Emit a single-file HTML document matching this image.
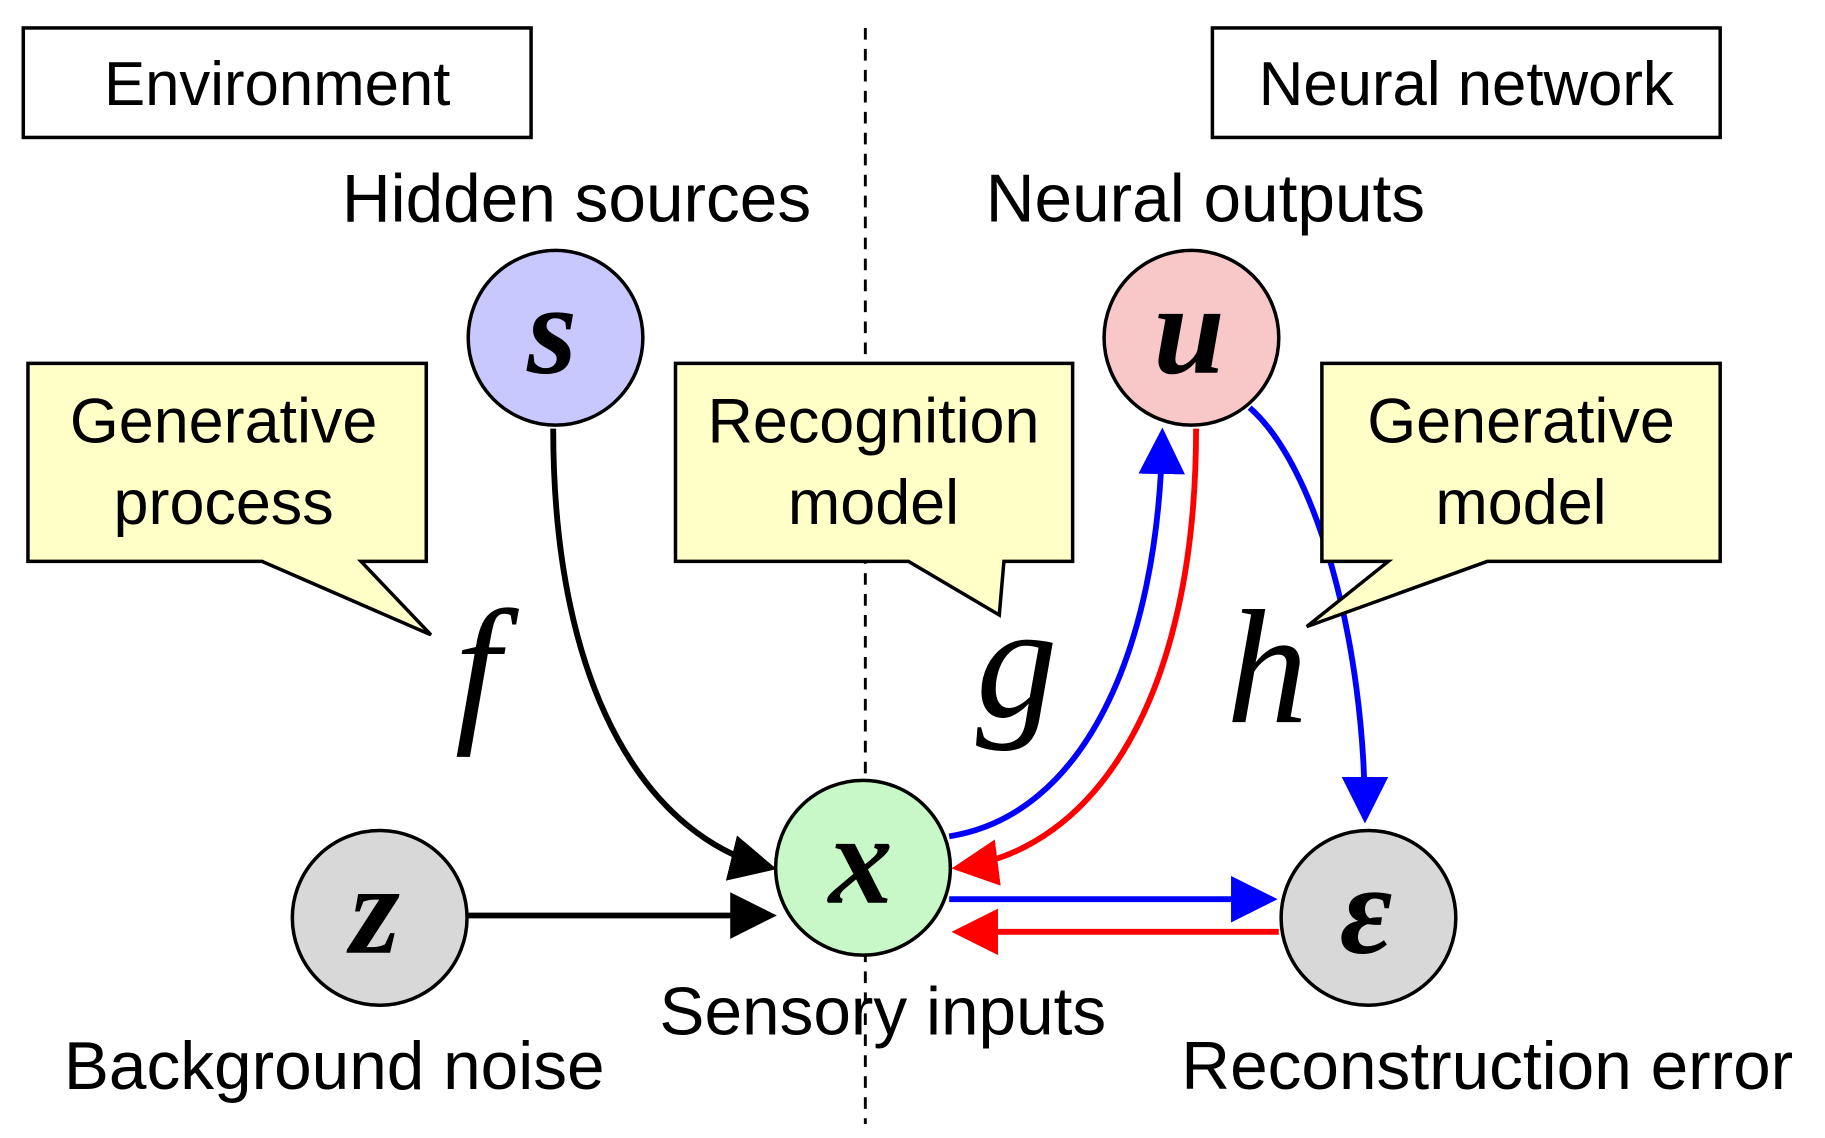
<!DOCTYPE html>
<html><head><meta charset="utf-8"><style>html,body{margin:0;padding:0;background:#fff}svg{display:block}</style></head>
<body>
<svg width="1825" height="1138" viewBox="0 0 1567 977" preserveAspectRatio="none" xmlns="http://www.w3.org/2000/svg" font-family="Liberation Sans, sans-serif">
<defs>
<marker id="ak" markerWidth="8" markerHeight="8" refX="7" refY="4" orient="auto" markerUnits="strokeWidth"><path d="M0,0 L8,4 L0,8 z" fill="#000"/></marker>
<marker id="ab" markerWidth="8" markerHeight="8" refX="7" refY="4" orient="auto" markerUnits="strokeWidth"><path d="M0,0 L8,4 L0,8 z" fill="#00f"/></marker>
<marker id="ar" markerWidth="8" markerHeight="8" refX="7" refY="4" orient="auto" markerUnits="strokeWidth"><path d="M0,0 L8,4 L0,8 z" fill="#f00"/></marker>
</defs>
<line x1="743" y1="24" x2="743" y2="965" stroke="#000" stroke-width="2.5" stroke-dasharray="10,8"/>
<rect x="20" y="24" width="436" height="94" fill="#fff" stroke="#000" stroke-width="3"/>
<text x="238" y="90" font-size="53" text-anchor="middle">Environment</text>
<rect x="1041" y="24" width="436" height="94" fill="#fff" stroke="#000" stroke-width="3"/>
<text x="1259" y="90" font-size="53" text-anchor="middle">Neural network</text>
<text x="495" y="190" font-size="58" text-anchor="middle">Hidden sources</text>
<text x="1035" y="190" font-size="58" text-anchor="middle">Neural outputs</text>
<path d="M24,312 H366 V482 H310 L370,545 L225,482 H24 Z" fill="#ffffc8" stroke="#000" stroke-width="3"/>
<text x="192" y="380" font-size="54" text-anchor="middle">Generative</text>
<text x="192" y="450" font-size="54" text-anchor="middle">process</text>
<path d="M580,312 H921 V482 H862 L858,528 L780,482 H580 Z" fill="#ffffc8" stroke="#000" stroke-width="3"/>
<text x="750" y="380" font-size="54" text-anchor="middle">Recognition</text>
<text x="750" y="450" font-size="54" text-anchor="middle">model</text>
<path d="M475,368 C475,600 560,720 662,745" fill="none" stroke="#000" stroke-width="5" marker-end="url(#ak)"/>
<path d="M402,786 L662,786" fill="none" stroke="#000" stroke-width="5" marker-end="url(#ak)"/>
<path d="M815,718 C930,700 995,560 998,372" fill="none" stroke="#00f" stroke-width="5" marker-end="url(#ab)"/>
<path d="M1027,368 C1027,600 940,730 822,745" fill="none" stroke="#f00" stroke-width="5" marker-end="url(#ar)"/>
<path d="M1073,350 C1130,400 1172,550 1172,702" fill="none" stroke="#00f" stroke-width="5" marker-end="url(#ab)"/>
<path d="M815,772 L1092,772" fill="none" stroke="#00f" stroke-width="5" marker-end="url(#ab)"/>
<path d="M1098,800 L822,800" fill="none" stroke="#f00" stroke-width="5" marker-end="url(#ar)"/>
<path d="M1135,312 H1477 V482 H1277 L1122,538 L1192,482 H1135 Z" fill="#ffffc8" stroke="#000" stroke-width="3"/>
<text x="1306" y="380" font-size="54" text-anchor="middle">Generative</text>
<text x="1306" y="450" font-size="54" text-anchor="middle">model</text>
<circle cx="477" cy="290" r="75" fill="#c8c8ff" stroke="#000" stroke-width="3"/>
<circle cx="1023" cy="290" r="75" fill="#f8c8c8" stroke="#000" stroke-width="3"/>
<circle cx="741" cy="745" r="75" fill="#c8f8c8" stroke="#000" stroke-width="3"/>
<circle cx="326" cy="788" r="75" fill="#d8d8d8" stroke="#000" stroke-width="3"/>
<circle cx="1175" cy="788" r="75" fill="#d8d8d8" stroke="#000" stroke-width="3"/>
<g font-family="Liberation Serif, serif" font-style="italic" text-anchor="middle">
<text x="474" y="320" font-size="110" font-weight="bold">s</text>
<text x="1021" y="320" font-size="110" font-weight="bold">u</text>
<text x="739" y="775" font-size="110" font-weight="bold">x</text>
<text x="322" y="818" font-size="110" font-weight="bold">z</text>
<text x="1173" y="818" font-size="110" font-weight="bold">ε</text>
<text x="410" y="620" font-size="140">f</text>
<text x="873" y="615" font-size="140">g</text>
<text x="1088" y="620" font-size="140">h</text>
</g>
<text x="758" y="888" font-size="58" text-anchor="middle">Sensory inputs</text>
<text x="287" y="935" font-size="58" text-anchor="middle">Background noise</text>
<text x="1277" y="935" font-size="58" text-anchor="middle">Reconstruction error</text>
</svg>
</body></html>
